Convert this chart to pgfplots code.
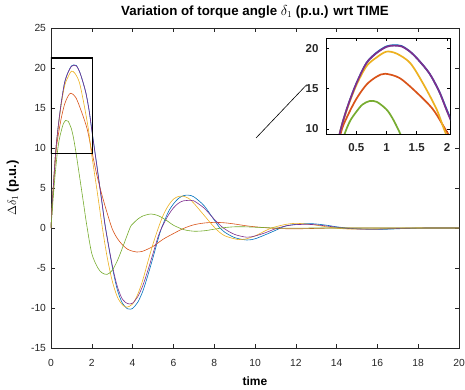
\documentclass[border=0pt]{standalone}
\usepackage{pgfplots}
\pgfplotsset{compat=1.18}
\usepackage{pgfplotstable}
\usepackage{fontspec}
\setmainfont{Liberation Sans}
\definecolor{mblue}{rgb}{0,0.447,0.741}
\definecolor{morange}{rgb}{0.85,0.325,0.098}
\definecolor{myellow}{rgb}{0.929,0.694,0.125}
\definecolor{mpurple}{rgb}{0.494,0.184,0.556}
\definecolor{mgreen}{rgb}{0.466,0.674,0.188}
\definecolor{axgray}{rgb}{0.15,0.15,0.15}

\pgfplotstableread{
t y
0 0
0.1 4.6
0.23 9.5
0.35 12.6
0.5 15.6
0.67 18.2
0.84 19.5
1.0 20.25
1.12 20.4
1.25 20.3
1.39 19.6
1.5 18.8
1.66 17.4
1.75 16.4
1.88 14.5
2.0 12.3
2.25 7.8
2.5 3.2
2.67 0.1
3.0 -4.8
3.25 -7.7
3.5 -9.4
3.75 -10.1
3.9 -10.15
4.0 -10.05
4.25 -9.3
4.5 -7.9
4.75 -5.9
5.0 -3.7
5.25 -1.4
5.42 0
5.75 2.0
6.0 3.0
6.25 3.7
6.5 4.05
6.75 4.1
7.0 3.9
7.5 2.8
8.0 1.0
8.28 0
8.5 -0.5
9.0 -1.2
9.6 -1.5
10.0 -1.35
10.5 -0.85
11.0 -0.3
11.5 0.25
12.0 0.45
12.6 0.55
13.0 0.5
13.5 0.35
14.0 0.15
14.5 0.0
15.0 -0.1
15.8 -0.18
16.5 -0.15
17.5 -0.05
18.5 0
19.2 0
20 0
}\tblue

\pgfplotstableread{
t y
0 0
0.1 4.5
0.25 9.6
0.35 11.5
0.5 13.7
0.67 15.5
0.84 16.5
0.98 16.85
1.22 16.3
1.5 14.5
1.77 12.4
2.0 9.6
2.25 6.6
2.5 4.1
2.75 1.9
3.0 -0.1
3.25 -1.3
3.5 -2.1
3.75 -2.65
4.0 -2.9
4.2 -3.0
4.5 -2.9
5.0 -2.3
5.5 -1.4
6.0 -0.7
6.5 -0.05
7.0 0.4
7.5 0.62
8.0 0.7
8.5 0.65
9.0 0.5
9.5 0.3
10 0.15
11 -0.05
12 -0.1
13 -0.05
14 0
16 0
18 0
20 0
}\torange

\pgfplotstableread{
t y
0 0
0.1 4.7
0.23 9.5
0.35 12.5
0.5 15.4
0.67 17.8
0.84 18.9
1.0 19.6
1.17 19.35
1.39 18.2
1.6 15.7
1.83 12.4
1.97 9.6
2.25 4.8
2.52 0
2.75 -3.6
3.0 -6.6
3.25 -8.6
3.5 -9.6
3.72 -9.9
4.0 -9.5
4.25 -8.3
4.5 -6.5
4.75 -4.2
5.0 -2.0
5.26 0
5.5 1.6
5.75 2.8
6.0 3.6
6.25 3.95
6.45 4.0
6.75 3.7
7.0 3.1
7.5 1.6
8.04 0
8.5 -0.95
9.18 -1.45
9.5 -1.4
10.0 -1.0
10.5 -0.35
10.8 0
11.5 0.45
12.0 0.58
12.5 0.5
13.0 0.35
13.5 0.15
14.0 -0.02
14.5 -0.12
15.3 -0.15
16 -0.12
17 -0.05
18 0
19 0
20 0
}\tyellow

\pgfplotstableread{
t y
0 0
0.1 4.6
0.23 9.5
0.35 12.6
0.5 15.6
0.67 18.2
0.84 19.45
1.0 20.2
1.12 20.35
1.25 20.25
1.39 19.6
1.5 18.8
1.66 17.4
1.75 16.4
1.88 14.5
2.0 12.2
2.25 7.7
2.5 3.1
2.67 0
3.0 -4.6
3.25 -7.3
3.5 -8.9
3.75 -9.45
3.87 -9.5
4.0 -9.4
4.25 -8.6
4.5 -7.2
4.75 -5.3
5.0 -3.2
5.25 -1.1
5.42 0
5.75 1.6
6.0 2.5
6.25 3.1
6.5 3.4
6.85 3.45
7.0 3.4
7.5 2.5
8.0 1.1
8.45 0
9.0 -0.8
9.6 -1.15
10.0 -1.0
10.5 -0.6
11.0 -0.1
11.5 0.25
12.0 0.42
12.6 0.45
13.0 0.4
13.5 0.25
14.0 0.1
14.5 -0.05
15.0 -0.12
15.8 -0.15
16.5 -0.1
17.5 -0.03
18.5 0
19.2 0
20 0
}\tpurple

\pgfplotstableread{
t y
0 0
0.1 3.5
0.2 6.6
0.31 9.4
0.4 11.0
0.5 12.1
0.6 13.0
0.72 13.45
0.84 13.35
1.0 12.4
1.1 11.3
1.22 9.5
1.42 6.1
1.6 3.0
1.75 0.4
2.0 -3.2
2.3 -5.0
2.5 -5.6
2.75 -5.8
3.0 -5.3
3.25 -4.1
3.5 -2.5
3.87 0
4.0 0.5
4.25 1.1
4.5 1.5
4.9 1.75
5.25 1.55
5.5 1.2
5.75 0.8
6.0 0.35
6.5 -0.2
7.0 -0.4
7.5 -0.35
8.0 -0.15
8.5 0.05
9.0 0.15
9.5 0.15
10 0.1
11 0
12 -0.02
13 0
15 0
17 0
20 0
}\tgreen

\begin{document}
\begin{tikzpicture}
\useasboundingbox (-51pt,-42pt) rectangle (414pt,348pt);
\begin{axis}[
  at={(0pt,0pt)}, anchor=south west,
  scale only axis, width=408pt, height=320pt,
  xmin=0, xmax=20, ymin=-15, ymax=25,
  xtick={0,2,...,20}, ytick={-15,-10,...,25},
  tick align=inside, major tick length=4pt,
  axis line style={axgray, line width=0.5pt},
  every tick/.style={axgray, line width=0.5pt},
  ticklabel style={font=\fontsize{10.3}{12}\selectfont, text=axgray},
  /pgf/number format/assume math mode=true,
  xticklabel style={yshift=-7.5pt},
  yticklabel style={xshift=-1.5pt},
  every axis title shift=0pt,
  title={\bfseries Variation of torque angle $\delta_{1}$ (p.u.) wrt TIME},
  title style={at={(axis description cs:0.5,1)}, anchor=center, yshift=16pt, font=\fontsize{13.3}{15}\selectfont},
  xlabel={\bfseries time},
  xlabel style={at={(axis description cs:0.5,-0.103)}, anchor=center, font=\fontsize{12}{14}\selectfont},
  ylabel={\bfseries $\Delta\delta_{1}$ (p.u.)},
  ylabel style={at={(axis description cs:-0.094,0.5)}, anchor=center, font=\fontsize{13}{15}\selectfont},
  every axis plot/.append style={line width=0.6pt, smooth, no markers},
]
\addplot[mblue] table[x=t,y=y] {\tblue};
\addplot[morange] table[x=t,y=y] {\torange};
\addplot[myellow] table[x=t,y=y] {\tyellow};
\addplot[mpurple] table[x=t,y=y] {\tpurple};
\addplot[mgreen] table[x=t,y=y] {\tgreen};
\draw[black, line width=1.1pt] (axis cs:0,9.3) rectangle (axis cs:2.04,21.25);
\draw[black, line width=0.6pt] (axis cs:10.05,11.25) -- (axis cs:12.53,17.9);
\end{axis}
\begin{axis}[
  at={(275pt,214pt)}, anchor=south west,
  scale only axis, width=124pt, height=96pt,
  xmin=0, xmax=2.05, ymin=9.35, ymax=21.3,
  xtick={0.5,1,1.5,2}, ytick={10,15,20},
  xticklabels={0.5,1,1.5,2},
  tick align=inside, major tick length=3pt,
  axis background/.style={fill=white},
  axis line style={black, line width=0.8pt},
  every tick/.style={black, line width=0.5pt},
  ticklabel style={font=\bfseries\fontsize{11.5}{13}\selectfont, text=axgray},
  /pgf/number format/assume math mode=true,
  xticklabel style={yshift=-6pt},
  yticklabel style={xshift=-4pt},
  every axis plot/.append style={line width=1.7pt, smooth, no markers},
]
\addplot[mblue] table[x=t,y=y] {\tblue};
\addplot[morange] table[x=t,y=y] {\torange};
\addplot[myellow] table[x=t,y=y] {\tyellow};
\addplot[mpurple] table[x=t,y=y] {\tpurple};
\addplot[mgreen] table[x=t,y=y] {\tgreen};
\end{axis}
\end{tikzpicture}
\end{document}
